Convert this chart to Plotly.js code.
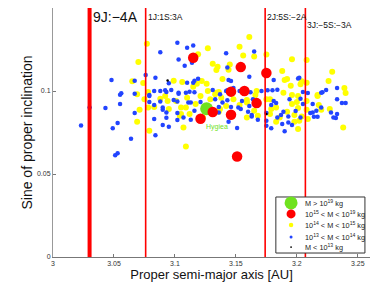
<!DOCTYPE html>
<html><head><meta charset="utf-8">
<script src="https://cdn.plot.ly/plotly-3.0.1.min.js"></script>
<style>html,body{margin:0;padding:0;background:#fff}#c{width:374px;height:283px}</style>
</head><body><div id="c"></div>
<script>
// ---- data ----
const blueA = [3.076,3.084,3.048,3.067,3.056,3.055,3.067,3.083,3.079,3.088,3.102,3.110,3.115,3.103,3.108,3.114,3.165,3.142,3.143,3.161,3.146,3.119,3.116,3.095,3.092,3.093,3.103,3.109,3.112,3.116,3.143,3.148,3.153,3.162,3.171,3.201,3.233,3.224,3.221,3.205,3.209,3.176,3.180,3.184,3.030,3.043,3.055,3.067,3.083,3.023,3.053,3.049,3.083,3.084,3.064,3.053,3.051,3.079,3.088,3.099,3.102,3.090,3.093,3.093,3.090,3.095,3.102,3.107,3.113,3.113,3.116,3.121,3.136,3.139,3.133,3.143,3.144,3.146,3.154,3.155,3.161,3.160,3.163,3.168,3.151,3.181,3.183,3.179,3.175,3.175,3.175,3.179,3.184,3.187,3.189,3.193,3.193,3.196,3.188,3.190,3.199,3.205,3.194,3.203,3.213,3.216,3.214,3.217,3.220,3.228,3.233,3.232,3.237,3.240,3.144,3.110,3.115,3.181,3.202,3.088,3.097,3.103,3.131,3.137,3.142,3.164,3.213,3.220,3.233,3.079,3.090,3.102,3.111,3.136,3.152,3.163,3.203,3.211,3.230];
const blueS = [0.1096,0.1080,0.1066,0.1062,0.0987,0.0978,0.0984,0.1000,0.0976,0.1234,0.1290,0.1260,0.1274,0.1190,0.1152,0.1170,0.1238,0.1228,0.1142,0.1086,0.1060,0.1074,0.1062,0.1046,0.1004,0.0994,0.0984,0.0990,0.0996,0.0992,0.1004,0.1018,0.1000,0.0992,0.1000,0.1076,0.1018,0.1006,0.0992,0.0994,0.0988,0.1004,0.1004,0.1008,0.0900,0.0897,0.0921,0.0867,0.0916,0.0792,0.0807,0.0775,0.0831,0.0733,0.0713,0.0625,0.0613,0.0970,0.0936,0.0946,0.0936,0.0887,0.0870,0.0839,0.0795,0.0785,0.0825,0.0840,0.0827,0.0930,0.0881,0.0934,0.0904,0.0930,0.0951,0.0945,0.0815,0.0904,0.0891,0.0940,0.0910,0.0875,0.0846,0.0827,0.0777,0.0940,0.0927,0.0915,0.0867,0.0821,0.0791,0.0775,0.0840,0.0855,0.0875,0.0846,0.0810,0.0795,0.0801,0.0757,0.0879,0.0921,0.0951,0.0954,0.0870,0.0881,0.0845,0.0845,0.0900,0.0870,0.0861,0.0837,0.0927,0.0927,0.1066,0.1050,0.1050,0.1066,0.1080,0.1000,0.1006,0.0990,0.1006,0.0981,0.1000,0.0951,0.0921,0.0990,0.0951,0.0934,0.0900,0.0867,0.0930,0.0870,0.0900,0.0855,0.0840,0.0867,0.0840];
const yellowA = [3.077,3.070,3.065,3.074,3.078,3.127,3.119,3.161,3.153,3.156,3.165,3.131,3.135,3.134,3.145,3.144,3.139,3.126,3.118,3.115,3.106,3.099,3.127,3.136,3.133,3.166,3.175,3.196,3.208,3.188,3.229,3.192,3.204,3.203,3.208,3.195,3.226,3.239,3.240,3.217,3.196,3.071,3.078,3.083,3.069,3.079,3.088,3.094,3.095,3.105,3.107,3.109,3.117,3.136,3.142,3.153,3.159,3.159,3.165,3.109,3.175,3.179,3.178,3.183,3.192,3.198,3.201,3.202,3.204,3.201,3.200,3.208,3.209,3.220,3.218,3.217,3.238,3.122,3.190,3.069,3.075,3.092,3.101,3.110,3.121,3.129,3.134,3.138,3.148,3.159,3.167,3.178,3.183,3.189,3.196,3.201,3.208,3.227,3.104,3.112,3.123,3.168,3.186,3.198,3.105,3.137];
const yellowS = [0.1284,0.1174,0.1058,0.1048,0.0994,0.1258,0.1222,0.1326,0.1266,0.1214,0.1208,0.1164,0.1146,0.1126,0.1160,0.1128,0.1072,0.1044,0.1044,0.1026,0.1054,0.1062,0.1000,0.0994,0.0981,0.0976,0.1220,0.1192,0.1186,0.1120,0.1116,0.1072,0.1058,0.1040,0.1050,0.1032,0.1060,0.1018,0.0988,0.0976,0.0976,0.0887,0.0900,0.0904,0.0815,0.0761,0.0954,0.0940,0.0891,0.0861,0.0780,0.0900,0.0921,0.0875,0.0910,0.0915,0.0946,0.0840,0.0881,0.0665,0.0951,0.0891,0.0861,0.0815,0.0875,0.0815,0.0771,0.0821,0.0846,0.0897,0.0934,0.0887,0.0831,0.0887,0.0915,0.0970,0.0780,0.1060,0.1066,0.0981,0.0951,0.0970,0.0940,0.0960,0.0970,0.0951,0.0990,0.0960,0.0951,0.0930,0.1000,0.0951,0.0900,0.0990,0.0921,0.0970,0.0940,0.0891,0.0851,0.0861,0.0840,0.0851,0.0840,0.0855,0.0900,0.0891];
const redA = [3.115,3.154,3.175,3.146,3.157,3.167,3.131,3.121,3.146,3.151];
const redS = [0.1200,0.1144,0.1108,0.0996,0.1000,0.0927,0.0873,0.0833,0.0857,0.0605];
const greenA = [3.126];
const greenS = [0.0893];
const greenNames = ['Hygiea'];
const blackA = [3.094,3.175];
const blackS = [0.1063,0.0862];
const resonanceA = [3.030,3.076,3.174,3.207];
const resonanceLabels = ['9J:\u22124A','1J:1S:3A','2J:5S:\u22122A','3J:\u22125S:\u22123A'];
const xTicks = [3,3.05,3.1,3.15,3.2,3.25];
const xTickText = ['3','3.05','3.1','3.15','3.2','3.25'];
const yTicks = [0,0.05,0.1];
const yTickText = ['0','0.05','0.1'];
const legendLabels = ['M &gt; 10<sup>19</sup> kg','10<sup>15</sup> &lt; M &lt; 10<sup>19</sup> kg','10<sup>14</sup> &lt; M &lt; 10<sup>15</sup> kg','10<sup>13</sup> &lt; M &lt; 10<sup>14</sup> kg','M &lt; 10<sup>13</sup> kg'];

// ---- styles ----
const FONT = 'Liberation Sans, Arial, Helvetica, sans-serif';
const cGreen = '#6fe21e', cRed = '#ff0000', cYellow = '#ffff00', cBlue = '#2244ff', cBlack = '#000000';
const legendColors = [cGreen,cRed,cYellow,cBlue,cBlack];
const legendSizes = [13,9,4.5,3,1.8];

const mk = (x,y,color,size) => ({x:x,y:y,type:'scatter',mode:'markers',
  marker:{color:color,size:size,line:{width:0}},hoverinfo:'skip',showlegend:false,cliponaxis:false});

const traces = [
  mk(yellowA,yellowS,cYellow,6),
  mk(blueA,blueS,cBlue,4.5),
  mk(blackA,blackS,cBlack,2.5),
  mk(greenA,greenS,cGreen,13),
  mk(redA,redS,cRed,10.5)
];

const shapes = [];
resonanceA.forEach((a,i)=>{
  shapes.push({type:'line',xref:'x',yref:'paper',x0:a,x1:a,y0:0,y1:1,
    line:{color:cRed,width:i===0?4:1.6},layer:'above'});
});
// legend box
const lbx0=0.703,lbx1=0.984,lby0=0.016,lby1=0.241;
shapes.push({type:'rect',xref:'paper',yref:'paper',x0:lbx0,x1:lbx1,y0:lby0,y1:lby1,
  line:{color:'#333',width:1},fillcolor:'#fff',layer:'above'});
const rowY=[0.217,0.173,0.129,0.080,0.040];
const annotations = [];
legendLabels.forEach((t,i)=>{
  const r=legendSizes[i]/2;
  shapes.push({type:'circle',xref:'paper',yref:'paper',xsizemode:'pixel',ysizemode:'pixel',
    xanchor:0.751,yanchor:rowY[i],x0:-r,x1:r,y0:-r,y1:r,
    fillcolor:legendColors[i],line:{width:0},layer:'above'});
  annotations.push({xref:'paper',yref:'paper',x:0.790,y:rowY[i],text:t,showarrow:false,
    xanchor:'left',yanchor:'middle',font:{family:FONT,size:7.3,color:'#222'}});
});
resonanceA.forEach((a,i)=>{
  annotations.push({xref:'x',yref:'paper',x:a,y:i===3?0.932:0.964,text:resonanceLabels[i],
    showarrow:false,xanchor:'left',yanchor:'middle',xshift:i===0?1:0,
    font:{family:FONT,size:i===0?14:8.5,color:'#111'}});
});
annotations.push({xref:'x',yref:'y',x:greenA[0],y:greenS[0],text:greenNames[0],showarrow:false,
  xanchor:'center',yanchor:'middle',xshift:10,yshift:-18,font:{family:FONT,size:7,color:cGreen}});

const layout = {
  width:374,height:283,margin:{l:53,r:4,t:8,b:26},
  paper_bgcolor:'#fff',plot_bgcolor:'#fff',showlegend:false,
  font:{family:FONT,size:7,color:'#333'},
  xaxis:{range:[3,3.26],tickvals:xTicks,ticktext:xTickText,showgrid:false,zeroline:false,
    showline:true,linecolor:'#777',linewidth:1,ticks:'inside',ticklen:3,tickcolor:'#777',
    tickfont:{family:FONT,size:7,color:'#333'},
    title:{text:'Proper semi-major axis [AU]',font:{family:FONT,size:13,color:'#111'},standoff:2}},
  yaxis:{range:[0,0.15],tickvals:yTicks,ticktext:yTickText,showgrid:false,zeroline:false,
    showline:true,linecolor:'#999',linewidth:1,ticks:'inside',ticklen:3,tickcolor:'#777',
    tickfont:{family:FONT,size:7,color:'#333'},
    title:{text:'Sine of proper inclination',font:{family:FONT,size:14,color:'#111'},standoff:1}},
  shapes:shapes,annotations:annotations
};
Plotly.newPlot('c',traces,layout,{staticPlot:true,displayModeBar:false});
</script></body></html>
